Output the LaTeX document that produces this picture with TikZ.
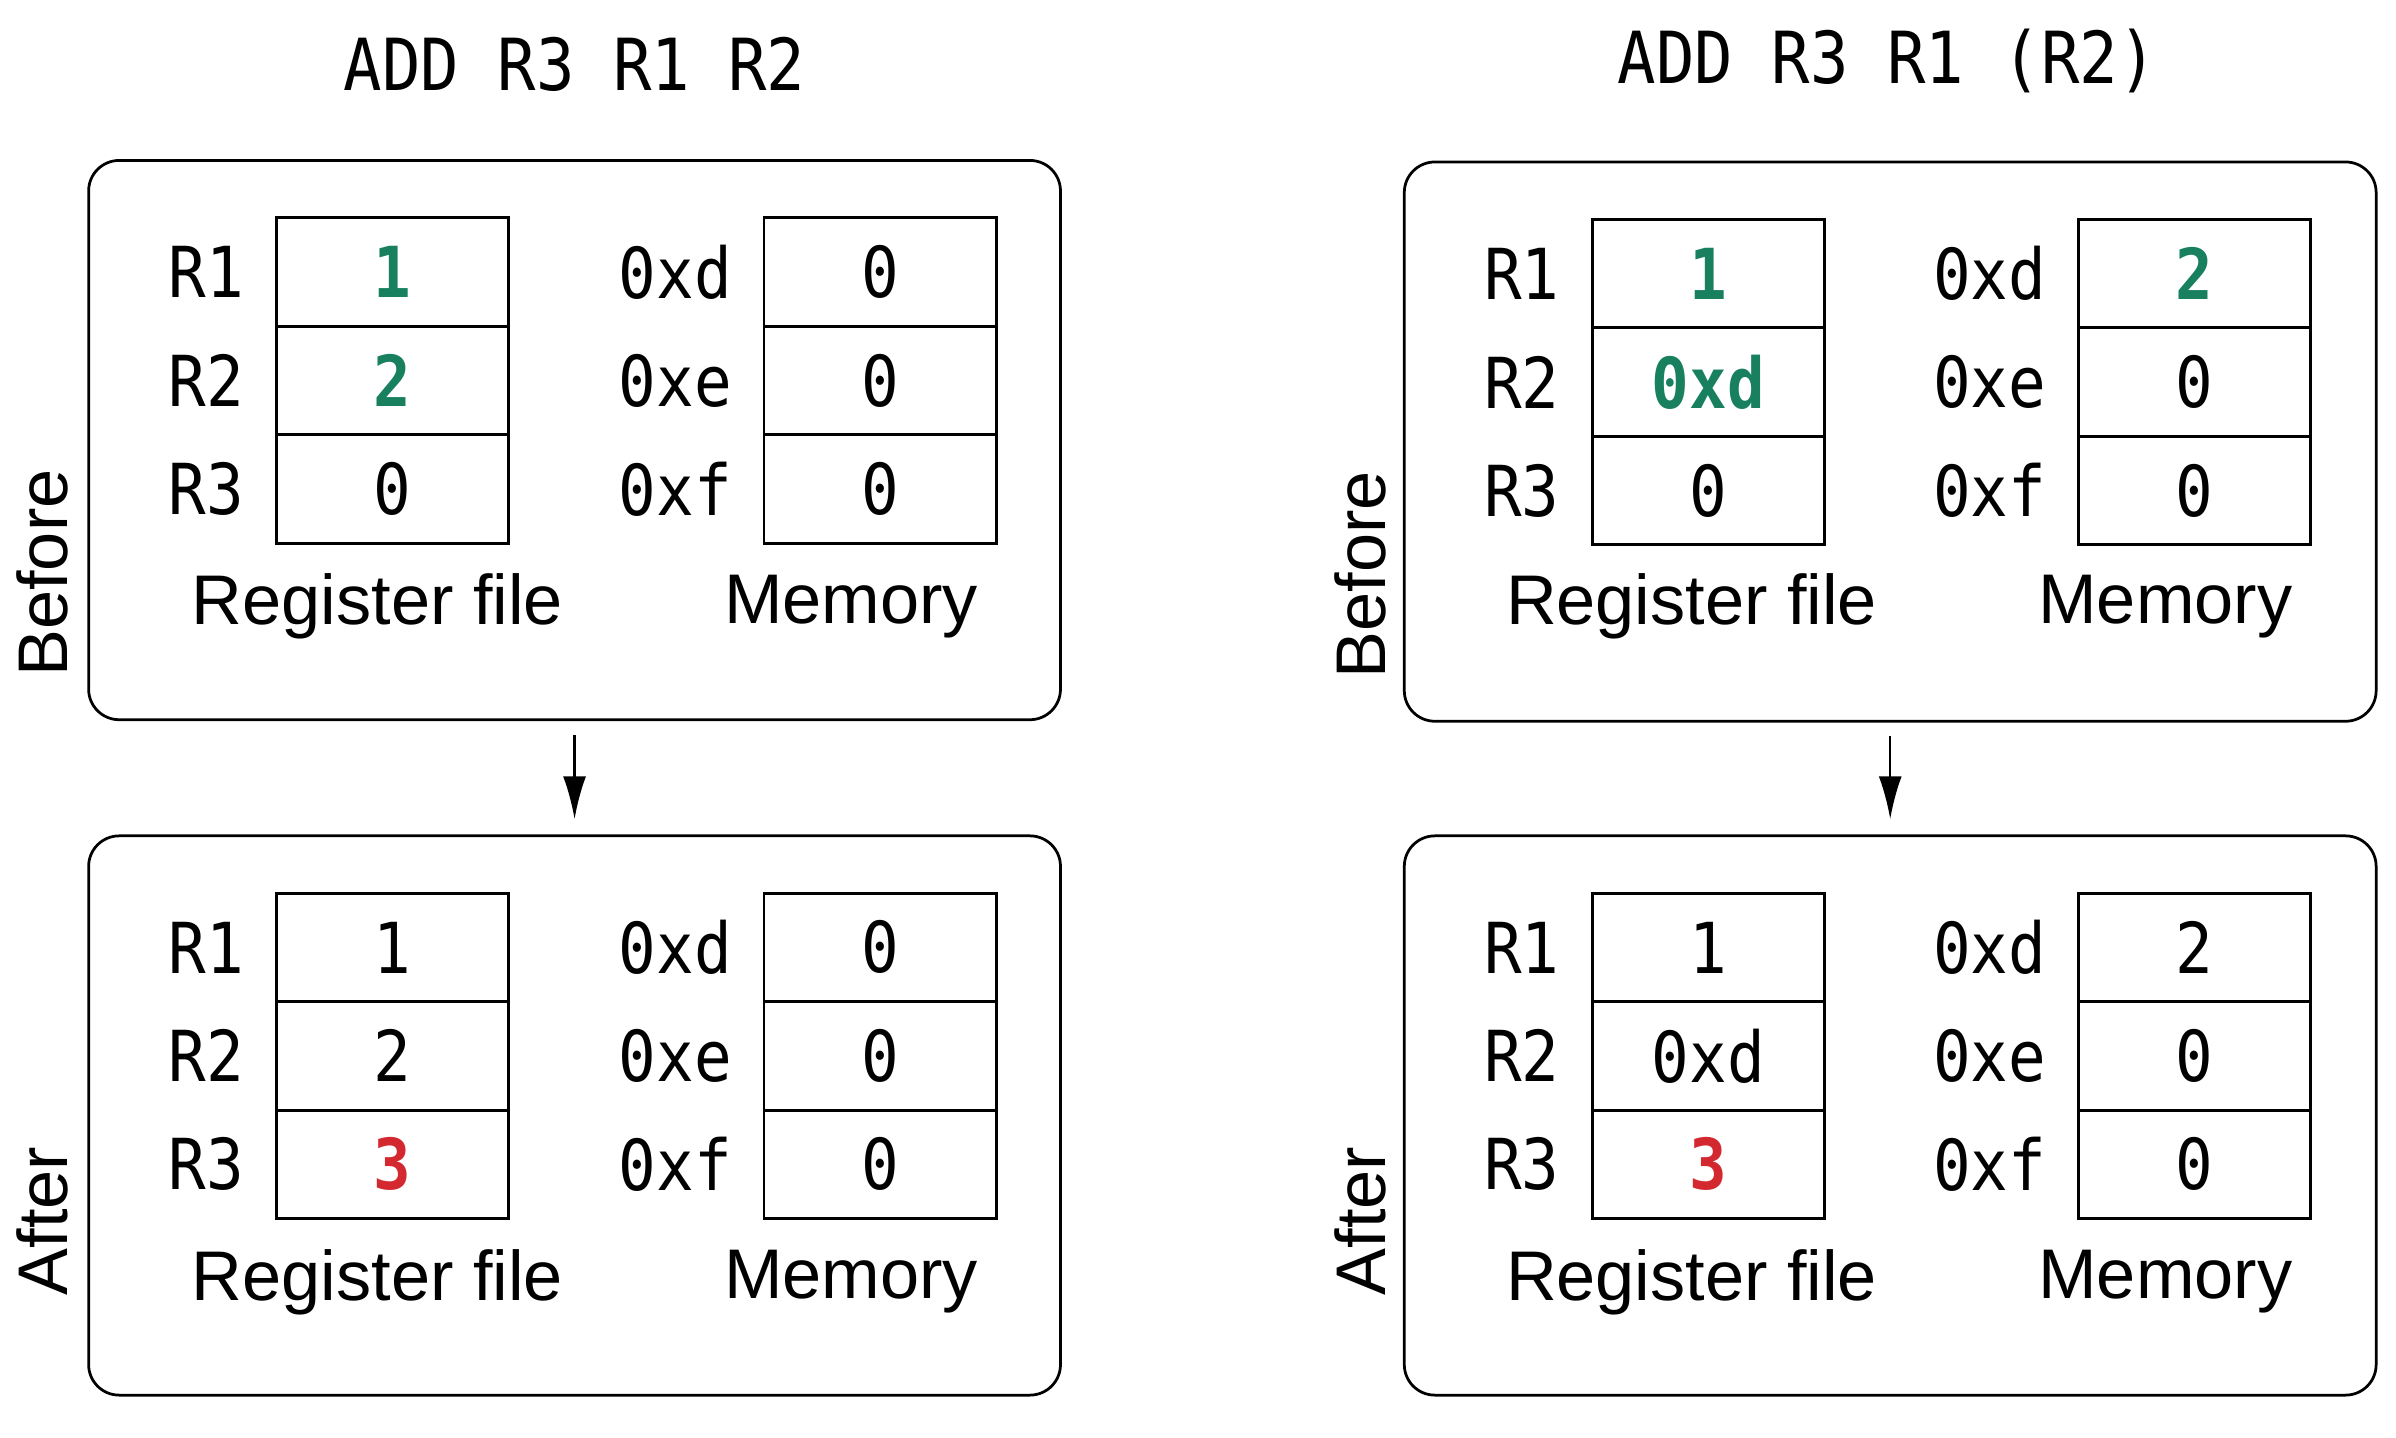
\documentclass[tikz,border=0pt]{standalone}
\usepackage{fontspec}
\setsansfont{Liberation Sans}
\newfontfamily\regfont[FakeStretch=0.89]{DejaVu Sans Mono}
\usepackage{tikz}
\usetikzlibrary{arrows.meta}
\definecolor{valgreen}{RGB}{24,127,95}
\definecolor{valred}{RGB}{212,40,48}

\begin{document}
\begin{tikzpicture}
[x=0.5pt, y=-0.5pt,
panel/.style={draw, line width=0.9pt, rounded corners=10pt, minimum width=318pt, minimum height=183pt, inner sep=0pt},
cell/.style={draw, line width=0.9pt, minimum width=76pt, minimum height=35.5pt, inner sep=0pt, font=\regfont\fontsize{23}{26}\selectfont},
mono/.style={inner sep=0pt, font=\regfont\fontsize{23}{26}\selectfont},
caption/.style={inner sep=0pt, font=\sffamily\fontsize{23}{26}\selectfont},
side/.style={inner sep=0pt, rotate=90, font=\sffamily\fontsize{23}{26}\selectfont},
new/.style={text=valgreen, font=\regfont\bfseries\fontsize{23}{26}\selectfont},
res/.style={text=valred, font=\regfont\bfseries\fontsize{23}{26}\selectfont},
step arrow/.style={-{Latex[length=14pt,width=7.5pt]}, line width=0.8pt, shorten <=4.5pt, shorten >=5pt}]

\useasboundingbox (0,0) rectangle (1568,941);

% titles
\node (t1) at (376, 42) [mono, font=\regfont\fontsize{23.5}{26}\selectfont] {ADD R3 R1 R2};
\node (t2) at (1235, 40) [mono, font=\regfont\fontsize{23.5}{26}\selectfont] {ADD R3 R1 (R2)};

% left, before
\node (lb) at (376, 288) [panel] {};
\node (lbr1) at (257, 178) [cell, new] {1};
\node (lbr2) at (257, 249) [cell, new] {2};
\node (lbr3) at (257, 320) [cell] {0};
\node (lbm1) at (576, 178) [cell] {0};
\node (lbm2) at (576, 249) [cell] {0};
\node (lbm3) at (576, 320) [cell] {0};
\node (lbl1) at (135, 178) [mono] {R1};
\node (lbl2) at (135, 249) [mono] {R2};
\node (lbl3) at (135, 320) [mono] {R3};
\node (lba1) at (442, 178) [mono] {0xd};
\node (lba2) at (442, 249) [mono] {0xe};
\node (lba3) at (442, 320) [mono] {0xf};
\node (lbrf) at (247, 397) [caption] {Register file};
\node (lbmem) at (557, 397) [caption] {Memory};
\node (lbs) at (28, 375) [side] {Before};

% left, after
\node (la) at (376, 730) [panel] {};
\node (lar1) at (257, 620) [cell] {1};
\node (lar2) at (257, 691) [cell] {2};
\node (lar3) at (257, 762) [cell, res] {3};
\node (lam1) at (576, 620) [cell] {0};
\node (lam2) at (576, 691) [cell] {0};
\node (lam3) at (576, 762) [cell] {0};
\node (lal1) at (135, 620) [mono] {R1};
\node (lal2) at (135, 691) [mono] {R2};
\node (lal3) at (135, 762) [mono] {R3};
\node (laa1) at (442, 620) [mono] {0xd};
\node (laa2) at (442, 691) [mono] {0xe};
\node (laa3) at (442, 762) [mono] {0xf};
\node (larf) at (247, 839) [caption] {Register file};
\node (lamem) at (557, 839) [caption] {Memory};
\node (las) at (28, 799) [side] {After};

% right, before
\node (rb) at (1237, 289) [panel] {};
\node (rbr1) at (1118, 179) [cell, new] {1};
\node (rbr2) at (1118, 250) [cell, new] {0xd};
\node (rbr3) at (1118, 321) [cell] {0};
\node (rbm1) at (1436, 179) [cell, new] {2};
\node (rbm2) at (1436, 250) [cell] {0};
\node (rbm3) at (1436, 321) [cell] {0};
\node (rbl1) at (996, 179) [mono] {R1};
\node (rbl2) at (996, 250) [mono] {R2};
\node (rbl3) at (996, 321) [mono] {R3};
\node (rba1) at (1302, 179) [mono] {0xd};
\node (rba2) at (1302, 250) [mono] {0xe};
\node (rba3) at (1302, 321) [mono] {0xf};
\node (rbrf) at (1107, 397) [caption] {Register file};
\node (rbmem) at (1417, 397) [caption] {Memory};
\node (rbs) at (890, 376) [side] {Before};

% right, after
\node (ra) at (1237, 730) [panel] {};
\node (rar1) at (1118, 620) [cell] {1};
\node (rar2) at (1118, 691) [cell] {0xd};
\node (rar3) at (1118, 762) [cell, res] {3};
\node (ram1) at (1436, 620) [cell] {2};
\node (ram2) at (1436, 691) [cell] {0};
\node (ram3) at (1436, 762) [cell] {0};
\node (ral1) at (996, 620) [mono] {R1};
\node (ral2) at (996, 691) [mono] {R2};
\node (ral3) at (996, 762) [mono] {R3};
\node (raa1) at (1302, 620) [mono] {0xd};
\node (raa2) at (1302, 691) [mono] {0xe};
\node (raa3) at (1302, 762) [mono] {0xf};
\node (rarf) at (1107, 839) [caption] {Register file};
\node (ramem) at (1417, 839) [caption] {Memory};
\node (ras) at (890, 799) [side] {After};

\draw [step arrow] (lb) -- (la);
\draw [step arrow] (rb) -- (ra);
\end{tikzpicture}
\end{document}
